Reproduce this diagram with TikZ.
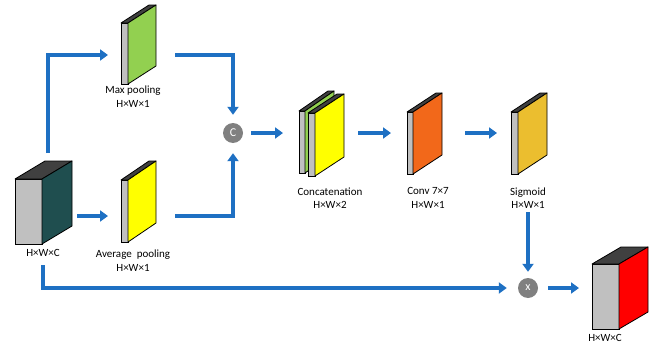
\documentclass[tikz,border=0pt]{standalone}
\usepackage{fontspec}
\setmainfont{Carlito}
\usetikzlibrary{arrows.meta}

\definecolor{arrowblue}{RGB}{30,112,195}
\definecolor{facegray}{RGB}{192,192,192}
\definecolor{topdark}{RGB}{64,64,64}
\definecolor{tealface}{RGB}{31,78,79}
\definecolor{greenface}{RGB}{146,208,80}
\definecolor{yellowface}{RGB}{255,255,0}
\definecolor{orangeface}{RGB}{242,104,26}
\definecolor{goldface}{RGB}{235,190,47}
\definecolor{redface}{RGB}{255,0,0}
\definecolor{opgray}{RGB}{128,128,128}

% #1 name, #2 x of front-left edge, #3 front width, #4 top y, #5 bottom y,
% #6 depth dx, #7 depth dy, #8 side colour
\newcommand{\featblock}[8]{%
  \coordinate (#1-fl) at (#2,#5);
  \fill[facegray,draw=black,line width=0.8] (#2,#4) rectangle ({#2+#3},#5);
  \fill[topdark,draw=black,line width=0.8,line join=round]
    (#2,#4) -- ({#2+#3},#4) -- ({#2+#3+#6},{#4+#7}) -- ({#2+#6},{#4+#7}) -- cycle;
  \fill[#8,draw=black,line width=0.8,line join=round]
    ({#2+#3},#4) -- ({#2+#3+#6},{#4+#7}) -- ({#2+#3+#6},{#5+#7}) -- ({#2+#3},#5) -- cycle;
}

\tikzset{
  flow/.style={draw=arrowblue,line width=3.8,
    -{Triangle[length=8,width=11]}},
  caption/.style={font=\fontsize{11}{13.5}\selectfont,align=center,inner sep=0},
  opnode/.style={circle,fill=opgray,text=white,minimum size=20,inner sep=0,
    font=\fontsize{12}{12}\selectfont},
}

\begin{document}
\begin{tikzpicture}[x=1pt,y=-1pt]
\useasboundingbox (0,0) rectangle (656,348);

% feature maps
\featblock{inp}{15}{27}{179}{244}{30}{-18}{tealface}
\featblock{maxp}{121}{7}{23}{84}{28}{-18}{greenface}
\featblock{avgp}{121}{7}{180}{242}{28}{-19}{yellowface}
\featblock{catb}{299}{6}{111}{173}{29}{-20}{greenface}
\featblock{catf}{308}{7}{113}{176}{29}{-19}{yellowface}
\featblock{conv}{407}{6}{112}{174}{29}{-19}{orangeface}
\featblock{sig}{511}{7}{112}{174}{29}{-19}{goldface}
\featblock{outp}{592}{27}{264}{329}{29}{-17}{redface}

% captions
\node[caption] (inlab) at (43,253) {H×W×C};
\node[caption] (maxlab) at (133,96.5) {Max pooling\\H×W×1};
\node[caption] (avglab) at (133,260.5) {Average\ \ pooling\\H×W×1};
\node[caption] (catlab) at (330,198) {Concatenation\\H×W×2};
\node[caption] (convlab) at (428,198) {Conv 7×7\\H×W×1};
\node[caption] (siglab) at (528,198) {Sigmoid\\H×W×1};
\node[caption] (outlab) at (605,338) {H×W×C};

% operators
\node[opnode] (cc) at (233,133) {C};
\node[opnode] (mul) at (528,288) {x};

% connector end points
\coordinate (inup) at (48,153);
\coordinate (inright) at (77,216);
\coordinate (inlow) at (43,265);
\coordinate (maxin) at (108,55);
\coordinate (avgin) at (108,216);
\coordinate (maxout) at (175,55);
\coordinate (avgout) at (175,216);
\coordinate (catin) at (283,133);
\coordinate (catout) at (358,133);
\coordinate (convin) at (391,133);
\coordinate (convout) at (465,133);
\coordinate (sigin) at (497,133);
\coordinate (sigout) at (528,212);
\coordinate (outin) at (579,288);

% connectors
\draw[flow] (inup) |- (maxin);
\draw[flow] (inright) -- (avgin);
\draw[flow,shorten >=8] (maxout) -| (cc.north);
\draw[flow,shorten >=10] (avgout) -| (cc.south);
\draw[flow,shorten <=8] (cc.east) -- (catin);
\draw[flow] (catout) -- (convin);
\draw[flow] (convout) -- (sigin);
\draw[flow,shorten >=6] (sigout) -- (mul.north);
\draw[flow,shorten >=11] (inlow) |- (mul.west);
\draw[flow,shorten <=10] (mul.east) -- (outin);
\end{tikzpicture}
\end{document}
